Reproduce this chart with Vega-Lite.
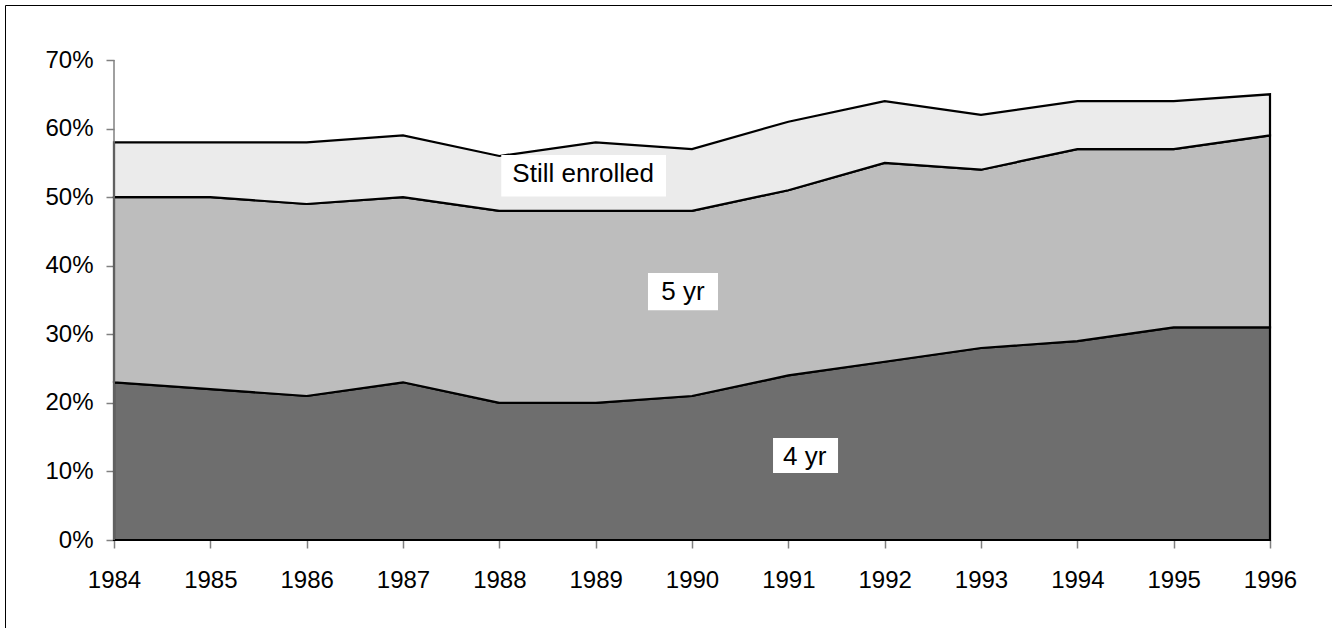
{
  "$schema": "https://vega.github.io/schema/vega-lite/v6.json",
  "width": 1327,
  "height": 640,
  "autosize": {"type": "none"},
  "padding": {"left": 5, "top": 5, "right": 0, "bottom": 0},
  "background": "white",
  "config": {
    "view": {"stroke": "#000000", "strokeWidth": 1},
    "font": "Liberation Sans"
  },
  "layer": [
    {
      "data": {"values": [
        {"year": 1984, "cat": "4 yr", "ord": 1, "value": 23},
        {"year": 1985, "cat": "4 yr", "ord": 1, "value": 22},
        {"year": 1986, "cat": "4 yr", "ord": 1, "value": 21},
        {"year": 1987, "cat": "4 yr", "ord": 1, "value": 23},
        {"year": 1988, "cat": "4 yr", "ord": 1, "value": 20},
        {"year": 1989, "cat": "4 yr", "ord": 1, "value": 20},
        {"year": 1990, "cat": "4 yr", "ord": 1, "value": 21},
        {"year": 1991, "cat": "4 yr", "ord": 1, "value": 24},
        {"year": 1992, "cat": "4 yr", "ord": 1, "value": 26},
        {"year": 1993, "cat": "4 yr", "ord": 1, "value": 28},
        {"year": 1994, "cat": "4 yr", "ord": 1, "value": 29},
        {"year": 1995, "cat": "4 yr", "ord": 1, "value": 31},
        {"year": 1996, "cat": "4 yr", "ord": 1, "value": 31},
        {"year": 1984, "cat": "5 yr", "ord": 2, "value": 27},
        {"year": 1985, "cat": "5 yr", "ord": 2, "value": 28},
        {"year": 1986, "cat": "5 yr", "ord": 2, "value": 28},
        {"year": 1987, "cat": "5 yr", "ord": 2, "value": 27},
        {"year": 1988, "cat": "5 yr", "ord": 2, "value": 28},
        {"year": 1989, "cat": "5 yr", "ord": 2, "value": 28},
        {"year": 1990, "cat": "5 yr", "ord": 2, "value": 27},
        {"year": 1991, "cat": "5 yr", "ord": 2, "value": 27},
        {"year": 1992, "cat": "5 yr", "ord": 2, "value": 29},
        {"year": 1993, "cat": "5 yr", "ord": 2, "value": 26},
        {"year": 1994, "cat": "5 yr", "ord": 2, "value": 28},
        {"year": 1995, "cat": "5 yr", "ord": 2, "value": 26},
        {"year": 1996, "cat": "5 yr", "ord": 2, "value": 28},
        {"year": 1984, "cat": "Still enrolled", "ord": 3, "value": 8},
        {"year": 1985, "cat": "Still enrolled", "ord": 3, "value": 8},
        {"year": 1986, "cat": "Still enrolled", "ord": 3, "value": 9},
        {"year": 1987, "cat": "Still enrolled", "ord": 3, "value": 9},
        {"year": 1988, "cat": "Still enrolled", "ord": 3, "value": 8},
        {"year": 1989, "cat": "Still enrolled", "ord": 3, "value": 10},
        {"year": 1990, "cat": "Still enrolled", "ord": 3, "value": 9},
        {"year": 1991, "cat": "Still enrolled", "ord": 3, "value": 10},
        {"year": 1992, "cat": "Still enrolled", "ord": 3, "value": 9},
        {"year": 1993, "cat": "Still enrolled", "ord": 3, "value": 8},
        {"year": 1994, "cat": "Still enrolled", "ord": 3, "value": 7},
        {"year": 1995, "cat": "Still enrolled", "ord": 3, "value": 7},
        {"year": 1996, "cat": "Still enrolled", "ord": 3, "value": 6}
      ]},
      "mark": {"type": "area", "stroke": "#000000", "strokeWidth": 2.2, "strokeJoin": "miter", "fillOpacity": 1},
      "encoding": {
        "x": {
          "field": "year", "type": "quantitative",
          "scale": {"domain": [1982.8685, 1996.6436], "nice": false, "zero": false},
          "axis": {
            "values": [1984, 1985, 1986, 1987, 1988, 1989, 1990, 1991, 1992, 1993, 1994, 1995, 1996],
            "format": "d", "offset": -105, "domain": false, "grid": false, "title": null,
            "tickColor": "#808080", "tickSize": 8, "tickWidth": 1.5,
            "labelFont": "Liberation Sans", "labelFontSize": 24, "labelColor": "#000000",
            "labelPadding": 20, "labelFlush": false, "labelOverlap": false
          }
        },
        "y": {
          "field": "value", "type": "quantitative", "stack": "zero",
          "scale": {"domain": [-15.3125, 78.021], "nice": false, "zero": false},
          "axis": {
            "values": [0, 10, 20, 30, 40, 50, 60, 70],
            "labelExpr": "datum.value + '%'", "offset": -109, "domain": false, "grid": false, "title": null,
            "tickColor": "#808080", "tickSize": 8, "tickWidth": 1.5,
            "labelFont": "Liberation Sans", "labelFontSize": 24, "labelColor": "#000000",
            "labelPadding": 13, "labelFlush": false, "labelOverlap": false
          }
        },
        "color": {
          "field": "cat", "type": "nominal",
          "scale": {"domain": ["4 yr", "5 yr", "Still enrolled"], "range": ["#6e6e6e", "#bdbdbd", "#ebebeb"]},
          "legend": null
        },
        "order": {"field": "ord", "type": "quantitative"}
      }
    },
    {
      "data": {"values": [{"year": 1984, "lo": 0, "hi": 70}]},
      "mark": {"type": "rule", "color": "#808080", "strokeWidth": 1.5},
      "encoding": {
        "x": {"field": "year", "type": "quantitative", "scale": {"domain": [1982.8685, 1996.6436], "nice": false, "zero": false}, "title": null},
        "y": {"field": "lo", "type": "quantitative", "scale": {"domain": [-15.3125, 78.021], "nice": false, "zero": false}, "title": null},
        "y2": {"field": "hi"}
      }
    },
    {
      "data": {"values": [
        {"label": "Still enrolled", "x1": 1988.02, "x2": 1989.73, "y1": 56.15, "y2": 50.1},
        {"label": "5 yr", "x1": 1989.543, "x2": 1990.27, "y1": 38.94, "y2": 33.5},
        {"label": "4 yr", "x1": 1990.841, "x2": 1991.516, "y1": 14.875, "y2": 9.77}
      ]},
      "mark": {"type": "rect", "fill": "#ffffff", "stroke": null},
      "encoding": {
        "x": {"field": "x1", "type": "quantitative", "scale": {"domain": [1982.8685, 1996.6436], "nice": false, "zero": false}, "title": null},
        "x2": {"field": "x2"},
        "y": {"field": "y1", "type": "quantitative", "scale": {"domain": [-15.3125, 78.021], "nice": false, "zero": false}, "title": null},
        "y2": {"field": "y2"}
      }
    },
    {
      "data": {"values": [
        {"label": "Still enrolled", "x": 1988.87, "y": 53.35},
        {"label": "5 yr", "x": 1989.907, "y": 36.2},
        {"label": "4 yr", "x": 1991.17, "y": 12.1}
      ]},
      "mark": {"type": "text", "font": "Liberation Sans", "fontSize": 26, "color": "#000000", "align": "center", "baseline": "middle"},
      "encoding": {
        "x": {"field": "x", "type": "quantitative", "scale": {"domain": [1982.8685, 1996.6436], "nice": false, "zero": false}, "title": null},
        "y": {"field": "y", "type": "quantitative", "scale": {"domain": [-15.3125, 78.021], "nice": false, "zero": false}, "title": null},
        "text": {"field": "label", "type": "nominal"}
      }
    }
  ]
}
